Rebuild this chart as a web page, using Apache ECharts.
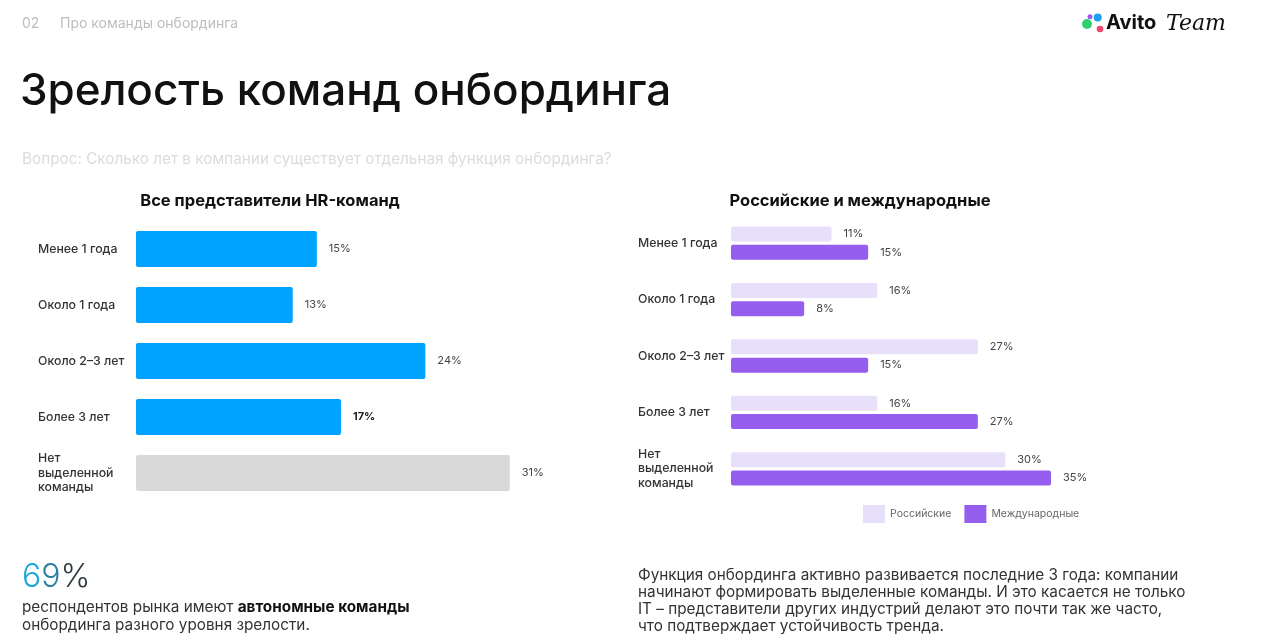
<!DOCTYPE html>
<html>
<head>
<meta charset="utf-8">
<script src="https://cdn.jsdelivr.net/npm/echarts@6/dist/echarts.min.js"></script>
<style>
html,body{margin:0;padding:0;background:#fff;}
#chart{width:1262px;height:642px;}
</style>
</head>
<body>
<div id="chart"></div>
<script>
const categories = ['Менее 1 года', 'Около 1 года', 'Около 2–3 лет', 'Более 3 лет', 'Нет\nвыделенной\nкоманды'];
const allValues = [15, 13, 24, 17, 31];
const russianValues = [11, 16, 27, 16, 30];
const internationalValues = [15, 8, 15, 27, 35];
const seriesNames = ['Российские', 'Международные'];

const FONT = 'Inter, "Noto Sans", sans-serif';
const chart = echarts.init(document.getElementById('chart'));

const leftData = allValues.map((v, i) => {
  const item = { value: v };
  if (i === allValues.length - 1) item.itemStyle = { color: '#D9D9D9' };
  if (i === 3) item.label = { fontWeight: 'bold', color: '#222' };
  return item;
});

const catAxis = (gi, margin) => ({
  type: 'category', gridIndex: gi, data: categories, inverse: true,
  axisLine: { show: false }, axisTick: { show: false },
  axisLabel: { align: 'left', margin: margin, color: '#333', fontSize: 12.3, fontWeight: 500, fontFamily: FONT, lineHeight: 14.5 }
});
const valAxis = (gi) => ({
  type: 'value', gridIndex: gi, min: 0, max: 35, show: false, splitLine: { show: false }
});
const labelStyle = { show: true, position: 'right', distance: 12, formatter: '{c}%', color: '#444', fontSize: 11, fontFamily: FONT };

chart.setOption({
  animation: false,
  textStyle: { fontFamily: FONT },
  grid: [
    { left: 136, top: 221, width: 422, height: 280 },
    { left: 731, top: 215, width: 320, height: 282 }
  ],
  xAxis: [valAxis(0), valAxis(1)],
  yAxis: [catAxis(0, 98), catAxis(1, 93)],
  legend: {
    left: 863, top: 505, padding: 0, icon: 'rect', itemWidth: 22, itemHeight: 18, itemGap: 13,
    data: seriesNames,
    textStyle: { color: '#666', fontSize: 10.5, fontFamily: FONT }
  },
  series: [
    {
      type: 'bar', xAxisIndex: 0, yAxisIndex: 0, data: leftData, barWidth: 36,
      itemStyle: { color: '#00A3FF', borderRadius: 2 },
      label: labelStyle
    },
    {
      name: seriesNames[0], type: 'bar', xAxisIndex: 1, yAxisIndex: 1, data: russianValues,
      barWidth: 15, barGap: '22%',
      itemStyle: { color: '#E8E0FB', borderRadius: 2 },
      label: labelStyle
    },
    {
      name: seriesNames[1], type: 'bar', xAxisIndex: 1, yAxisIndex: 1, data: internationalValues,
      barWidth: 15, barGap: '22%',
      itemStyle: { color: '#965EEE', borderRadius: 2 },
      label: labelStyle
    }
  ],
  graphic: [
    { type: 'text', left: 22, top: 17, style: { text: '02', fill: '#bdbdbd', font: '14px ' + FONT } },
    { type: 'text', left: 60, top: 17, style: { text: 'Про команды онбординга', fill: '#bdbdbd', font: '14px ' + FONT } },
    { type: 'text', left: 20, top: 70, style: { text: 'Зрелость команд онбординга', fill: '#111', font: '500 44px ' + FONT } },
    { type: 'text', left: 22, top: 152, style: { text: 'Вопрос: Сколько лет в компании существует отдельная функция онбординга?', fill: '#dcdcdc', font: '15.3px ' + FONT } },
    { type: 'text', x: 270, y: 201, style: { text: 'Все представители HR-команд', fill: '#111', font: 'bold 16.5px ' + FONT, align: 'center', verticalAlign: 'middle' } },
    { type: 'text', x: 860, y: 201, style: { text: 'Российские и международные', fill: '#111', font: 'bold 16.5px ' + FONT, align: 'center', verticalAlign: 'middle' } },
    { type: 'text', left: 22, top: 561, style: {
      text: '{a|6}{b|9}{c|%}',
      rich: {
        a: { fill: '#1BA6D8', font: '300 32px ' + FONT },
        b: { fill: '#2A7FA5', font: '300 32px ' + FONT },
        c: { fill: '#2F3A40', font: '300 32px ' + FONT }
      } } },
    { type: 'text', left: 22, top: 600, style: {
      text: '{n|респондентов рынка имеют }{b|автономные команды}\n{n|онбординга разного уровня зрелости.}',
      rich: { n: { fill: '#333', font: '15.3px ' + FONT, lineHeight: 18 }, b: { fill: '#111', font: 'bold 15.3px ' + FONT, lineHeight: 18 } } } },
    { type: 'text', left: 638, top: 567, style: {
      text: 'Функция онбординга активно развивается последние 3 года: компании\nначинают формировать выделенные команды. И это касается не только\nIT – представители других индустрий делают это почти так же часто,\nчто подтверждает устойчивость тренда.',
      fill: '#333', font: '15.3px ' + FONT, lineHeight: 17 } },
    { type: 'circle', shape: { cx: 1090, cy: 16.7, r: 2.5 }, style: { fill: '#9B5DE5' } },
    { type: 'circle', shape: { cx: 1097.7, cy: 17.5, r: 4 }, style: { fill: '#1EA0F0' } },
    { type: 'circle', shape: { cx: 1087, cy: 24, r: 5 }, style: { fill: '#2ED06E' } },
    { type: 'circle', shape: { cx: 1100, cy: 29, r: 3.3 }, style: { fill: '#F2466B' } },
    { type: 'text', left: 1106, top: 13, style: { text: 'Avito', fill: '#111', font: 'bold 20px ' + FONT } },
    { type: 'text', left: 1166, top: 13, style: { text: 'Team', fill: '#111', font: 'italic 22px "DejaVu Serif", serif' } }
  ]
});
</script>
</body>
</html>
